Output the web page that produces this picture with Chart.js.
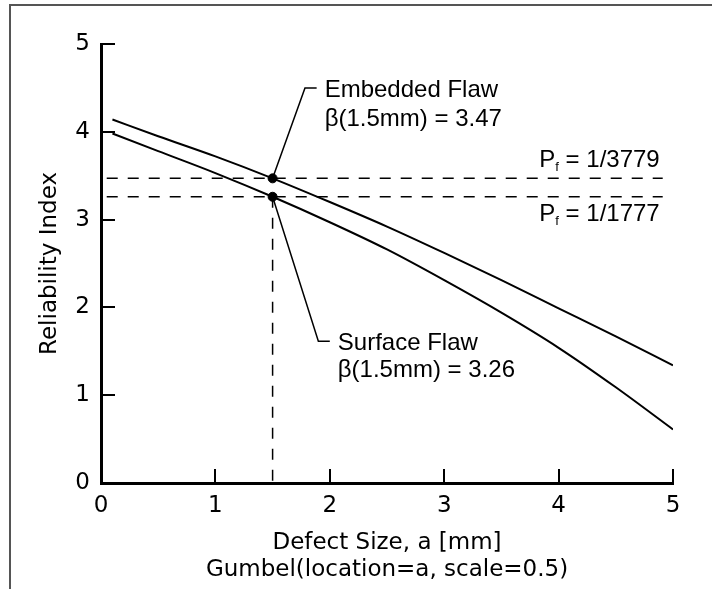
<!DOCTYPE html>
<html>
<head>
<meta charset="utf-8">
<script src="https://cdn.jsdelivr.net/npm/chart.js@4/dist/chart.umd.min.js"></script>
<style>
    html, body { margin: 0; padding: 0; background: #fff; }
</style>
</head>
<body>
<canvas id="reliability_chart" width="712" height="589"></canvas>
<script>
// values
var defectSize = [0.1, 0.5, 1.0, 1.5, 2.0, 2.5, 3.0, 3.5, 4.0, 4.5, 5.0]
var embeddedBeta = [4.14, 3.95, 3.72, 3.47, 3.20, 2.92, 2.62, 2.31, 1.99, 1.67, 1.34]
var surfaceBeta = [3.98, 3.78, 3.53, 3.26, 2.97, 2.66, 2.31, 1.94, 1.54, 1.09, 0.61]
var xTicks = [0, 1, 2, 3, 4, 5]
var yTicks = [0, 1, 2, 3, 4, 5]
var markSize = 1.5
var embeddedAt = 3.47
var surfaceAt = 3.26
var embeddedPf = "1/3779"
var surfacePf = "1/1777"
var refSpan = [0.05, 4.91]
// leader line bends (data units)
var embeddedLeader = [[1.5, 3.47], [1.783, 4.50], [1.885, 4.50]]
var surfaceLeader = [[1.5, 3.26], [1.90, 1.615], [2.0, 1.615]]

var axisFont = "DejaVu Sans"
var noteFont = "'Liberation Sans', Arial, sans-serif"

function pts(xs, ys) {
    return xs.map(function (x, i) { return { x: x, y: ys[i] } })
}
function pairs(list) {
    return list.map(function (p) { return { x: p[0], y: p[1] } })
}

var thin = { borderColor: "#000", borderWidth: 1.5, pointRadius: 0, showLine: true, tension: 0, fill: false }

var annotate = {
    id: "annotate",
    beforeDraw: function (chart) {
        var ctx = chart.ctx
        ctx.save()
        ctx.strokeStyle = "#555"
        ctx.lineWidth = 2
        ctx.beginPath()
        ctx.moveTo(10, chart.height)
        ctx.lineTo(10, 5)
        ctx.lineTo(chart.width, 5)
        ctx.stroke()
        ctx.restore()
    },
    afterDraw: function (chart) {
        var ctx = chart.ctx
        var xs = chart.scales.x
        var ys = chart.scales.y
        var area = chart.chartArea
        ctx.save()
        // inward ticks
        ctx.strokeStyle = "#000"
        ctx.lineWidth = 2
        ctx.beginPath()
        xTicks.forEach(function (v) {
            var px = Math.round(xs.getPixelForValue(v))
            ctx.moveTo(px, area.bottom)
            ctx.lineTo(px, area.bottom - 14)
        })
        yTicks.forEach(function (v) {
            var py = Math.round(ys.getPixelForValue(v))
            ctx.moveTo(area.left, py)
            ctx.lineTo(area.left + 14, py)
        })
        ctx.stroke()

        // flaw notes
        ctx.fillStyle = "#000"
        ctx.font = "24px " + noteFont
        ctx.textAlign = "left"
        ctx.textBaseline = "alphabetic"
        var e = embeddedLeader[2]
        var ex = xs.getPixelForValue(e[0]) + 8
        var ey = ys.getPixelForValue(e[1])
        ctx.fillText("Embedded Flaw", ex, ey + 9)
        ctx.fillText("\u03b2(1.5mm) = " + embeddedAt.toFixed(2), ex, ey + 38)
        var s = surfaceLeader[2]
        var sx = xs.getPixelForValue(s[0]) + 8
        var sy = ys.getPixelForValue(s[1])
        ctx.fillText("Surface Flaw", sx, sy + 9)
        ctx.fillText("\u03b2(1.5mm) = " + surfaceAt.toFixed(2), sx, sy + 36)

        // probability of failure labels
        var right = xs.getPixelForValue(refSpan[1]) - 3
        drawPf(ctx, embeddedPf, right, ys.getPixelForValue(embeddedAt) - 11)
        drawPf(ctx, surfacePf, right, ys.getPixelForValue(surfaceAt) + 24)
        ctx.restore()
    }
}

function drawPf(ctx, val, right, base) {
    var big = "24px " + noteFont
    var small = "13px " + noteFont
    ctx.font = big
    var wP = ctx.measureText("P").width
    var wRest = ctx.measureText(" = " + val).width
    ctx.font = small
    var wF = ctx.measureText("f").width
    var x = right - (wP + wF + wRest)
    ctx.font = big
    ctx.fillText("P", x, base)
    ctx.font = small
    ctx.fillText("f", x + wP, base + 4)
    ctx.font = big
    ctx.fillText(" = " + val, x + wP + wF, base)
}

var chartCanvas = document.getElementById("reliability_chart")
var config = {
    type: "scatter",
    data: {
        datasets: [
            Object.assign({}, thin, { label: "Embedded Flaw", data: pts(defectSize, embeddedBeta), borderWidth: 2, cubicInterpolationMode: "monotone" }),
            Object.assign({}, thin, { label: "Surface Flaw", data: pts(defectSize, surfaceBeta), borderWidth: 2, cubicInterpolationMode: "monotone" }),
            Object.assign({}, thin, { label: "Pf embedded", data: pairs([[refSpan[0], embeddedAt], [refSpan[1], embeddedAt]]), borderDash: [11, 10] }),
            Object.assign({}, thin, { label: "Pf surface", data: pairs([[refSpan[0], surfaceAt], [refSpan[1], surfaceAt]]), borderDash: [11, 10] }),
            Object.assign({}, thin, { label: "a = 1.5", data: pairs([[markSize, surfaceAt], [markSize, 0]]), borderDash: [11, 10] }),
            Object.assign({}, thin, { label: "leader embedded", data: pairs(embeddedLeader) }),
            Object.assign({}, thin, { label: "leader surface", data: pairs(surfaceLeader) }),
            {
                label: "marks",
                data: pairs([[markSize, embeddedAt], [markSize, surfaceAt]]),
                showLine: false,
                pointRadius: 4.5,
                pointBackgroundColor: "#000",
                pointBorderColor: "#000"
            }
        ]
    },
    options: {
        responsive: false,
        devicePixelRatio: 1,
        animation: false,
        layout: { padding: { left: 0, right: 39, top: 44, bottom: 0 } },
        plugins: { legend: { display: false }, tooltip: { enabled: false } },
        scales: {
            x: {
                type: "linear",
                min: 0,
                max: 5,
                afterBuildTicks: function (s) { s.ticks = xTicks.map(function (v) { return { value: v } }) },
                afterFit: function (s) { s.height = 106 },
                grid: { display: false, drawTicks: false },
                border: { display: true, width: 3, color: "#000" },
                ticks: { color: "#000", font: { family: axisFont, size: 23 }, padding: 9, maxRotation: 0 },
                title: {
                    display: true,
                    text: ["Defect Size, a [mm]", "Gumbel(location=a, scale=0.5)"],
                    color: "#000",
                    font: { family: axisFont, size: 23, lineHeight: 1.2 },
                    padding: { top: 0, bottom: 5 }
                }
            },
            y: {
                type: "linear",
                min: 0,
                max: 5,
                afterBuildTicks: function (s) { s.ticks = yTicks.map(function (v) { return { value: v } }) },
                afterFit: function (s) { s.width = 101 },
                grid: { display: false, drawTicks: false },
                border: { display: true, width: 3, color: "#000" },
                ticks: { color: "#000", font: { family: axisFont, size: 23 }, padding: 11 },
                title: {
                    display: true,
                    text: "Reliability Index",
                    color: "#000",
                    font: { family: axisFont, size: 23 },
                    padding: { top: 36, bottom: 0 }
                }
            }
        }
    },
    plugins: [annotate]
}

var reliability_chart = new Chart(chartCanvas, config)
</script>
</body>
</html>
